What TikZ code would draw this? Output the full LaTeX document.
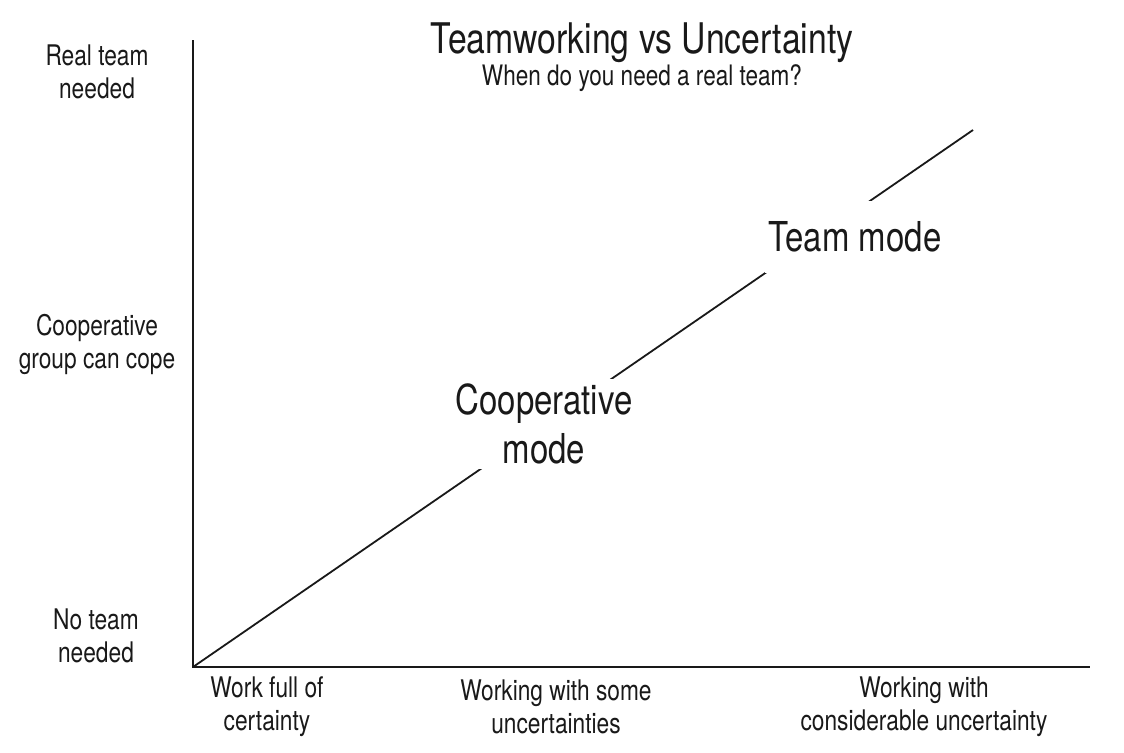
\documentclass[tikz,border=0pt]{standalone}
\usepackage{fontspec}
\setmainfont[FakeStretch=0.8]{TeX Gyre Heros}
\usepackage{xcolor}
\usepackage{tikz}
\usetikzlibrary{positioning,calc}
\definecolor{inkblack}{RGB}{25,25,25}

\begin{document}
\begin{tikzpicture}[x=0.5pt,y=0.5pt,
    axislabel/.style={align=center,text=inkblack,font=\fontsize{14.2}{16.5}\selectfont},
    modelabel/.style={align=center,text=inkblack,fill=white,inner xsep=2pt,inner ysep=0pt,font=\fontsize{20.6}{24.5}\selectfont}]
    \useasboundingbox (0,0) rectangle (1124,752);
    % Axes and the trend line
    \coordinate (origin) at (193,85);
    \coordinate (ytop) at (193,712);
    \coordinate (xend) at (1090,85);
    \coordinate (trendend) at (973,622);
    \draw[inkblack,line width=1.1pt] (ytop) -- (origin) -- (xend);
    \draw[inkblack,line width=0.9pt] (origin) -- (trendend);

    % Labels on the trend line (white boxes break the line)
    \node[modelabel,minimum height=45pt] (coopmode) at (544,328) {Cooperative\\mode};
    \node[modelabel,minimum height=36pt] (teammode) at (855,515) {Team mode};

    % Title
    \node[text=inkblack,font=\fontsize{21.1}{25}\selectfont,anchor=base] (title) at (642,699) {Teamworking vs Uncertainty};
    \node[text=inkblack,font=\fontsize{14.1}{16.5}\selectfont,anchor=base] (subtitle) at (642,667) {When do you need a real team?};

    % Vertical axis levels
    \node[axislabel] (realteam) at (97,680) {Real team\\needed};
    \node[axislabel] (coopgroup) at (97,408) {Cooperative\\group can cope};
    \node[axislabel] (noteam) at (96,116) {No team\\needed};

    % Horizontal axis levels
    \node[axislabel] (certain) at (267,45) {Work full of\\certainty};
    \node[axislabel] (someunc) at (556,45) {Working with some\\uncertainties};
    \node[axislabel] (considunc) at (924,45) {Working with\\considerable uncertainty};
\end{tikzpicture}
\end{document}
